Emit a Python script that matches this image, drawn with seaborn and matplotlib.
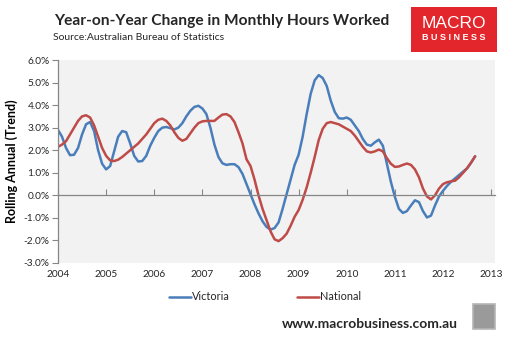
import numpy as np
import pandas as pd
import matplotlib
matplotlib.use("Agg")
import matplotlib.pyplot as plt
from matplotlib.patches import Rectangle
from matplotlib.lines import Line2D
import seaborn as sns

# ---- data (monthly, Jan 2004 - Sep 2012), % year-on-year ----
start_year = 2004
victoria = [
    2.9, 2.6, 2.1, 1.78, 1.8, 2.1, 2.7, 3.15, 3.25, 2.85, 2.0, 1.4,      # 2004
    1.15, 1.3, 1.95, 2.6, 2.85, 2.8, 2.3, 1.75, 1.5, 1.52, 1.75, 2.2,    # 2005
    2.55, 2.85, 3.0, 3.03, 2.98, 2.92, 3.0, 3.2, 3.5, 3.75, 3.92, 3.97,  # 2006
    3.85, 3.6, 3.0, 2.25, 1.7, 1.42, 1.35, 1.38, 1.38, 1.25, 0.95, 0.5,  # 2007
    0.05, -0.4, -0.8, -1.15, -1.4, -1.52, -1.45, -1.2, -0.6, 0.05, 0.7, 1.35,  # 2008
    1.8, 2.6, 3.6, 4.5, 5.1, 5.33, 5.2, 4.85, 4.2, 3.7, 3.42, 3.4,       # 2009
    3.45, 3.35, 3.1, 2.85, 2.5, 2.25, 2.2, 2.35, 2.47, 2.2, 1.4, 0.6,    # 2010
    -0.07, -0.6, -0.78, -0.7, -0.45, -0.22, -0.3, -0.7, -0.98, -0.9, -0.45, -0.05,  # 2011
    0.2, 0.42, 0.6, 0.75, 0.9, 1.05, 1.2, 1.45, 1.73,                    # 2012
]
national = [
    2.15, 2.25, 2.4, 2.7, 3.0, 3.3, 3.5, 3.55, 3.45, 3.1, 2.6, 2.1,      # 2004
    1.75, 1.55, 1.52, 1.58, 1.7, 1.85, 2.0, 2.15, 2.3, 2.5, 2.7, 2.95,   # 2005
    3.2, 3.35, 3.4, 3.3, 3.1, 2.8, 2.55, 2.42, 2.5, 2.75, 3.0, 3.2,      # 2006
    3.28, 3.3, 3.3, 3.3, 3.45, 3.58, 3.6, 3.5, 3.25, 2.8, 2.3, 1.6,      # 2007
    1.3, 0.7, 0.0, -0.6, -1.1, -1.6, -1.95, -2.03, -1.9, -1.7, -1.35, -0.95,  # 2008
    -0.65, -0.2, 0.35, 1.0, 1.7, 2.45, 2.95, 3.2, 3.25, 3.2, 3.15, 3.05, # 2009
    2.95, 2.85, 2.65, 2.4, 2.15, 1.95, 1.9, 1.95, 2.03, 1.95, 1.65, 1.4, # 2010
    1.26, 1.28, 1.35, 1.41, 1.35, 1.15, 0.8, 0.3, -0.05, -0.18, 0.0, 0.3,  # 2011
    0.5, 0.58, 0.62, 0.65, 0.8, 1.0, 1.2, 1.45, 1.73,                    # 2012
]
series_names = ["Victoria", "National"]
year_ticks = list(range(2004, 2014))
y_ticks = [-3, -2, -1, 0, 1, 2, 3, 4, 5, 6]

n = len(victoria)
t = start_year + np.arange(n) / 12.0
df = pd.DataFrame({
    "t": np.concatenate([t, t]),
    "value": np.concatenate([victoria, national]),
    "series": [series_names[0]] * n + [series_names[1]] * n,
})

sns.set_theme(style="white")
FONT = ["Lato", "DejaVu Sans"]
plt.rcParams["font.family"] = FONT

W, H = 511, 341
fig = plt.figure(figsize=(W / 100, H / 100), dpi=100)
fig.patch.set_facecolor("white")
ax = fig.add_axes([58 / W, 1 - 263 / H, (495 - 58) / W, (263 - 60) / H])
ax.set_facecolor("#f2f2f2")

palette = {"Victoria": "#4a7ebb", "National": "#be4b48"}
sns.lineplot(data=df, x="t", y="value", hue="series", palette=palette,
             linewidth=1.8, ax=ax, legend=False)

ax.set_xlim(2004, 2013.08)
ax.set_ylim(-3, 6)
ax.set_xlabel("")
ax.set_ylabel("Rolling Annual (Trend)", fontsize=9, fontweight="bold",
              color="black", labelpad=4)

# y-axis
ax.set_yticks(y_ticks)
ax.set_yticklabels([f"{v:.1f}%" for v in y_ticks], fontsize=7.3)
ax.tick_params(axis="y", direction="out", length=4, width=0.8,
               color="#868686", pad=2, left=True)
for s in ["top", "right"]:
    ax.spines[s].set_visible(False)
ax.spines["left"].set_color("#868686")
ax.spines["left"].set_linewidth(0.9)

# x-axis: spine at zero with inward ticks, labels at the bottom
ax.spines["bottom"].set_position(("data", 0))
ax.spines["bottom"].set_color("#868686")
ax.spines["bottom"].set_linewidth(0.9)
ax.set_xticks(year_ticks)
ax.tick_params(axis="x", direction="in", length=4, width=0.8,
               color="#868686", labelbottom=False, bottom=True)
sec = ax.secondary_xaxis("bottom")
sec.set_xticks(year_ticks)
sec.set_xticklabels([str(y) for y in year_ticks], fontsize=7.3)
sec.tick_params(length=0, pad=5)
sec.spines["bottom"].set_visible(False)

# legend
handles = [Line2D([], [], color=palette[s], lw=1.8) for s in series_names]
fig.legend(handles, series_names, loc="center", bbox_to_anchor=(265 / W, 1 - 297 / H),
           ncol=2, frameon=False, fontsize=7.8, handlelength=2.0,
           handletextpad=0.1, columnspacing=6.2)

# titles
fig.text(222 / W, 1 - 21 / H, "Year-on-Year Change in Monthly Hours Worked",
         ha="center", va="center", fontsize=11.2, fontweight="bold")
fig.text(53 / W, 1 - 38 / H, "Source:Australian Bureau of Statistics",
         ha="left", va="center", fontsize=7.5)

# logo
fig.patches.append(Rectangle((411 / W, 1 - 52 / H), 86 / W, 45 / H,
                             transform=fig.transFigure, facecolor="#e3262b",
                             edgecolor="none"))
fig.text(454 / W, 1 - 23 / H, "MACRO", ha="center", va="center",
         fontsize=12.5, color="white", family=["Liberation Sans", "DejaVu Sans"])
fig.text(454 / W, 1 - 38 / H, "B U S I N E S S", ha="center", va="center",
         fontsize=6.5, color="white", fontweight="bold",
         family=["Liberation Sans", "DejaVu Sans"])

# footer
fig.text(458 / W, 1 - 324 / H, "www.macrobusiness.com.au", ha="right",
         va="center", fontsize=10, fontweight="bold")
fig.patches.append(Rectangle((473 / W, 1 - 329 / H), 22 / W, 25 / H,
                             transform=fig.transFigure, facecolor="#9a9a9a",
                             edgecolor="#b5b5b5", linewidth=1.2))

fig.savefig("out.png", dpi=100, facecolor="white")
